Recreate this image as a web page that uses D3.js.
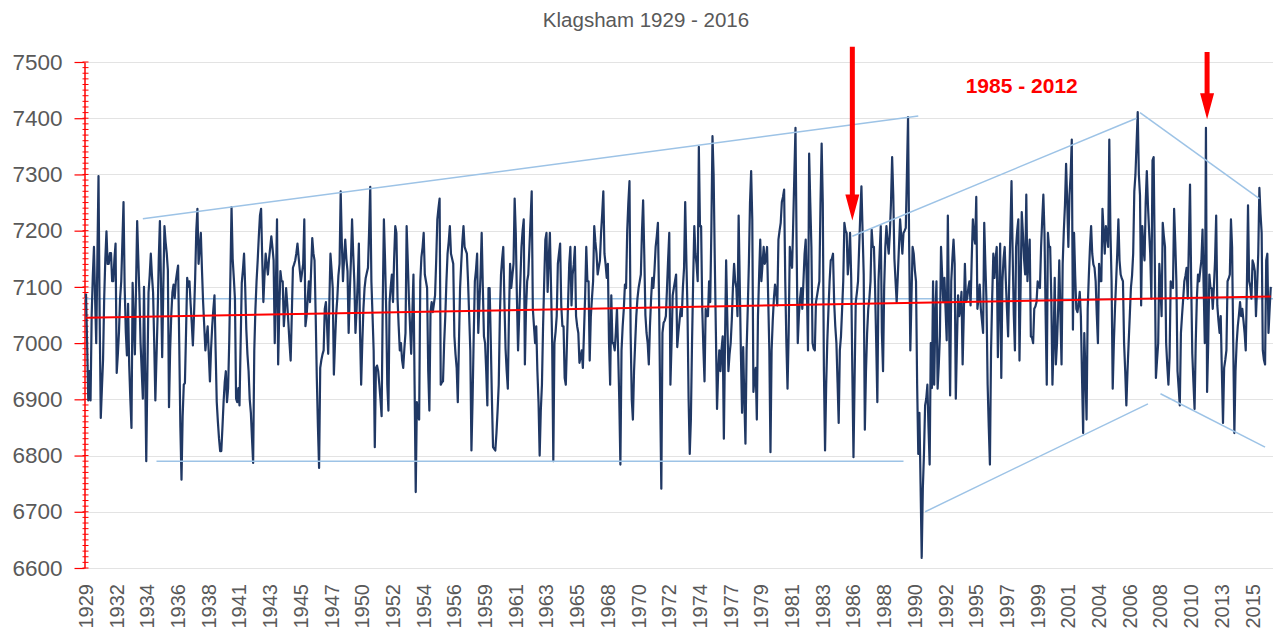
<!DOCTYPE html>
<html><head><meta charset="utf-8">
<script src="https://cdn.jsdelivr.net/npm/d3@7"></script>
<style>
body{margin:0;background:#fff;}
svg{display:block;font-family:"Liberation Sans",Arial,sans-serif;}
</style>
</head><body>
<svg id="chart" width="1273" height="637"></svg>
<script>
// ---------------- data ----------------
const chartTitle = "Klagsham 1929 - 2016";
const periodLabel = "1985 - 2012";

// monthly sea level (mm, RH), starting Oct 1929
const level1929 = [7088,7000,6898,6950,6898,7050,7120,7171,7080,7000,7150,7297,7050,6867,6920,6970,7080,7150,7199,7141,7141,7160,7160,7110,7110,7150,7177,6947,6980,7020,7080,7110,7180,7251,7100,7020,6978,7070,6960,6900,6849,7107,7040,6980,7100,7217,7150,7085,7000,6950,6901,7100,6950,6790,6950,7090,7120,7159,7120,7090,7000,6898,6975,7050,7150,7217,7100,6975,7100,7208,7180,7160,7130];
const level1935 = [6886,6987,7050,7090,7104,7080,7110,7125,7138,7000,6850,6757,6870,6926,6929,7020,7116,7100,7110,7070,7036,6996,7050,7116,7200,7239,7141,7170,7196,7130,7073,7030,6987,7010,7030,6980,6932,6990,7030,7060,7085,6987,6895,6860,6830,6808,6808,6850,6895,6930,6950,6895,6920,7005,7120,7242,7150,7116,7079,6901,6895,6920,6889,7000,7107,7130,7159,7100,7024,6980,6950,6900,6876,6830,6787,6987,7060,7110,7147,7190,7227,7239,7150,7073,7120,7159,7140,7122,7150,7170,7190,7170,7147,7000,7100,7220];
const level1943 = [6962,7060,7128,7110,7110,7030,7060,7098,7070,7036,7000,6969,7050,7134,7140,7147,7160,7177,7153,7130,7110,7125,7141,7220,7030,7048,7080,7110,7073,7130,7187,7160,7147,7050,6938,6850,6778,6956,6970,6980,6987,7061,7073,7030,6981,7070,7159,7130,7098,6944,7000,7050,7079,7120,7141,7270,7180,7110,7150,7184,7150,7128,7018,7090,7147,7220,7160,7110,7018,7060,7110,7177,7020,6926,7000,7061,7098,7116,7125,7134,7200,7278,7110,7050,6987,6815,6956,6960,6950,6926,6900,6870,7073,7220];
const level1951 = [7150,7061,6926,6880,7073,7100,7122,7073,7150,7208,7196,7080,7030,6987,7000,6970,6956,6990,7018,7208,7147,7080,7030,6981,7050,7122,6926,6735,6895,6870,6864,7110,7153,7170,7196,7122,7110,7098,6950,6880,7055,7073,7055,7070,7085,7147,7220,7240,7257,6926,6930,6932,7000,7048,7110,7159,7180,7208,7159,7150,7141,7012,6980,6956,6895,7000,7098,7141,7180,7208,7171,7165,7159,7110,7050,6987,6809,6900,7012,7110,7130,7159,7018,7070,7122,7196,7100,7012,7000,6950,6889,7098,7098,7005,6900,6815];
const level1959 = [6812,6809,6840,6880,6926,7048,7122,7150,7171,7073,6990,6950,6919,7050,7141,7098,7120,7141,7257,7196,7080,6987,7050,7110,7171,7200,7220,6962,7060,7110,7122,7171,7220,7270,7061,7030,7000,7030,6950,6895,6800,6880,6926,7030,7110,7184,7196,7091,7150,7196,7100,7000,6790,7000,7020,7048,7141,7160,7177,7067,7030,7030,6938,6926,7000,7073,7140,7171,7067,7122,7140,7171,7048,7030,7018,6965,6975,6987,6956,7020,7085,7171,7110,7110,6969,7048,7080,7110,7208,7180,7159,7122,7135,7147,7196,7230,7270];
const level1967 = [7159,7140,7116,7141,7000,6926,7085,7000,7000,6987,7020,7061,6987,6900,6784,6987,7030,7061,7104,7098,7200,7250,7288,7018,6900,6864,6950,7000,7048,7079,7098,7110,7122,7200,7254,7159,7050,7018,7000,6962,7030,7079,7116,7098,7130,7171,7190,7214,7079,6900,6741,7018,7036,7040,7048,7098,7150,7196,6926,7000,7085,7098,7110,7122,6993,7018,7040,7061,7048,7100,7134,7251,7150,7061,6900,6803,6864,7000,7110,7208,7159,7140,7110,7349,7208,7208,7061,6990,6932,7061,7048,7048,7110,7073,7200,7368];
const level1975 = [7300,7150,7018,6883,6950,6987,6950,6990,7012,6830,7000,7147,7048,6950,6980,7000,7042,7100,7141,7110,7098,7048,7227,7104,6980,6876,6993,6900,6821,6987,7060,7141,7250,7306,7220,6913,6940,6956,6864,7048,7120,7184,7110,7140,7171,7141,7150,7171,7080,6987,6806,6987,7040,7079,7104,7090,7067,7184,7200,7214,7251,7260,7273,7110,7000,6919,7018,7171,7150,7134,7214,7300,7383,7171,7000,7050,7079,7098,7061,7110,7159,7184,7100,6987,7337,7250,7171,7000,6990,6987,7073,7085,7098,7110,7250,7355,7250];
const level1983 = [6950,6809,6926,7005,7060,7110,7147,7150,7159,7073,7030,7000,6930,6858,6987,7012,7060,7110,7214,7200,7196,7122,7150,7196,7116,6950,6797,6938,7073,7090,7110,7171,7230,7279,7200,7122,6846,6950,7018,7061,7080,7110,7202,7171,7171,7098,7000,6895,7110,7160,7208,7018,6950,7100,7171,7208,7180,7159,7196,7250,7331,7263,7150,7110,7073,7120,7171,7220,7190,7159,7196,7200,7205,7300,7402,7171,6987,7080,7171,7159,7130,7110,6926,6803,6876,6750,6618,6741,6803,6889,6901,6926,6850,6784,7000,6920,7110];
const level1991 = [6926,7050,7110,6919,6960,7012,7171,7120,7073,7116,7060,7005,7227,7050,6907,7110,7150,7184,7141,6901,7000,7085,7048,7060,7091,6962,7050,7141,7073,7080,7098,7110,7067,7150,7220,7190,7177,7260,7061,7080,7104,7061,7040,7018,7214,7140,7073,6926,6850,6784,6987,7080,7159,7116,7150,7171,6975,7080,7177,6938,7110,7150,7171,7110,7060,7012,7110,7200,7288,7159,7050,6987,7171,7200,7220,6969,7100,7233,7196,7150,7122,7264,7110,7150,7184,7012,7010,7000,7061,7065,7073,7110,7100,7098,7171,7220,7264];
const level1999 = [7196,7050,6926,7196,7171,7171,7079,6926,7000,7116,6962,7000,7061,7147,7050,6962,7141,7200,7245,7319,7250,7171,7263,7300,7362,7024,7196,7120,7061,7055,7070,7091,7048,6940,6840,7018,6950,6864,7061,7120,7171,7208,7159,7140,7134,7110,7050,7000,7141,7110,7110,7239,7200,7159,7208,7190,7171,7362,7200,7110,6919,7000,7061,7110,7160,7220,7147,7122,7115,7110,7000,6950,6889,6950,7000,7048,7098,7120,7159,7270,7300,7356,7411,7300,7263,7067,7208,7170,7147,7250,7306,7245,7200,7159,7079,7325];
const level2007 = [7331,7150,6938,6970,7000,7141,7100,7048,7214,7190,7171,7000,6960,6926,6975,7110,7100,7098,7239,7180,7110,6950,6920,6889,7018,7050,7079,7110,7120,7134,7079,7180,7282,7110,6981,6930,6883,7000,7079,7122,7110,7130,7147,7202,7100,7000,7383,6913,7000,7122,7098,7098,7061,7100,7147,7227,7067,7040,7018,7048,6950,6858,6956,6970,6987,7110,7115,7122,7220,7171,7000,6840,6950,7000,7030,7050,7073,7048,7061,7040,7018,6987,7100,7245,7110,7100,7079,7147,7140,7128,7048,7100,7159,7276,7230,7196,6987,6970,6962,7147,7159,7018,7060,7100];

const seaLevel = [].concat(level1929, level1935, level1943, level1951, level1959,
  level1967, level1975, level1983, level1991, level1999, level2007);

const xTickLabels = ["1929","1932","1934","1936","1938","1941","1943","1945","1947","1950",
  "1952","1954","1956","1959","1961","1963","1965","1968","1970","1972","1974","1977","1979",
  "1981","1983","1986","1988","1990","1992","1995","1997","1999","2001","2004","2006","2008",
  "2010","2013","2015"];
const monthsPerLabel = 27;
const yTicks = [6600,6700,6800,6900,7000,7100,7200,7300,7400,7500];
const yMinorStep = 10;

// linear trend (value at first and last month) and long-term mean
const trendEnds = [7045, 7083];
const meanLevel = 7079;

// hand-drawn guide lines: [month index, level] -> [month index, level]
const guideLines = [
  [[50, 7221], [732, 7404]],
  [[62, 6790], [719, 6790]],
  [[674, 7190], [924, 7400]],
  [[927, 7410], [1032, 7257]],
  [[738, 6700], [934, 6892]],
  [[945, 6910], [1037, 6815]]
];
// red arrows: month index, level of the tip, level of the tail
const arrowMarks = [
  {month: 674, tip: 7218, tail: 7527},
  {month: 986, tip: 7398, tail: 7518}
];
const periodLabelAt = {month: 823, level: 7459};

// ---------------- drawing ----------------
const svg = d3.select("#chart");
const N = seaLevel.length;
const step = 1.137;
const x0 = 86;
const x = d3.scaleLinear().domain([0, N - 1]).range([x0, x0 + (N - 1) * step]);
const y = d3.scaleLinear().domain([6600, 7500]).range([568, 62]);
const plotLeft = 84.5, plotRight = 1273;

// title
svg.append("text").attr("x", 646).attr("y", 27).attr("text-anchor", "middle")
  .attr("font-size", 20.5).attr("fill", "#595959").text(chartTitle);

// gridlines
svg.append("g").selectAll("line").data(yTicks).join("line")
  .attr("x1", plotLeft).attr("x2", plotRight)
  .attr("y1", d => Math.round(y(d)) + 0.5).attr("y2", d => Math.round(y(d)) + 0.5)
  .attr("stroke", "#e3e3e3").attr("stroke-width", 1.2);

// y axis (red)
const yAxis = d3.axisLeft(y).tickValues(yTicks).tickSize(10).tickPadding(12).tickSizeOuter(0)
  .tickFormat(d3.format("d"));
const gy = svg.append("g").attr("transform", `translate(${plotLeft},0)`).call(yAxis);
gy.select(".domain").attr("stroke", "#ff0000").attr("stroke-width", 1.5);
gy.selectAll(".tick line").attr("stroke", "#ff0000").attr("stroke-width", 1.2);
gy.selectAll(".tick text").attr("fill", "#595959").attr("font-size", 22.5)
  .attr("font-family", "'Liberation Sans', Arial, sans-serif");
const minor = d3.range(yTicks[0], yTicks[yTicks.length - 1] + 1, yMinorStep);
svg.append("g").selectAll("line").data(minor).join("line")
  .attr("x1", plotLeft - 2).attr("x2", plotLeft + 4)
  .attr("y1", d => y(d)).attr("y2", d => y(d))
  .attr("stroke", "#ff0000").attr("stroke-width", 1);

// x labels
const xTickIdx = xTickLabels.map((_, k) => k * monthsPerLabel);
svg.append("g").selectAll("text").data(xTickLabels).join("text")
  .attr("transform", (d, k) => `translate(${x(xTickIdx[k]) + 7},584) rotate(-90)`)
  .attr("text-anchor", "end").attr("font-size", 20).attr("fill", "#595959").text(d => d);

// mean line
svg.append("line").attr("x1", plotLeft).attr("x2", plotRight)
  .attr("y1", y(meanLevel)).attr("y2", y(meanLevel))
  .attr("stroke", "#9dc3e6").attr("stroke-width", 1.5);

// data line
const line = d3.line().x((d, i) => x(i)).y(d => y(d));
svg.append("path").datum(seaLevel).attr("d", line)
  .attr("fill", "none").attr("stroke", "#203864").attr("stroke-width", 2.2)
  .attr("stroke-linejoin", "round");

// trend line
svg.append("line").attr("x1", x(0)).attr("x2", x(N - 1))
  .attr("y1", y(trendEnds[0])).attr("y2", y(trendEnds[1]))
  .attr("stroke", "#ff0000").attr("stroke-width", 2);

// guide lines
svg.append("g").selectAll("line").data(guideLines).join("line")
  .attr("x1", d => x(d[0][0])).attr("y1", d => y(d[0][1]))
  .attr("x2", d => x(d[1][0])).attr("y2", d => y(d[1][1]))
  .attr("stroke", "#9dc3e6").attr("stroke-width", 1.5);

// arrows
svg.append("g").selectAll("path").data(arrowMarks).join("path")
  .attr("d", d => {
    const cx = x(d.month), ty = y(d.tip), by = y(d.tail);
    const hh = 26, hw = 7, sw = 2.5;
    return `M${cx - sw},${by} L${cx + sw},${by} L${cx + sw},${ty - hh} L${cx + hw},${ty - hh}
            L${cx},${ty} L${cx - hw},${ty - hh} L${cx - sw},${ty - hh} Z`;
  })
  .attr("fill", "#ff0000");

// period label
svg.append("text").attr("x", x(periodLabelAt.month)).attr("y", y(periodLabelAt.level))
  .attr("text-anchor", "middle").attr("dominant-baseline", "central")
  .attr("font-size", 21).attr("font-weight", "bold").attr("fill", "#ff0000").text(periodLabel);
</script>
</body></html>
